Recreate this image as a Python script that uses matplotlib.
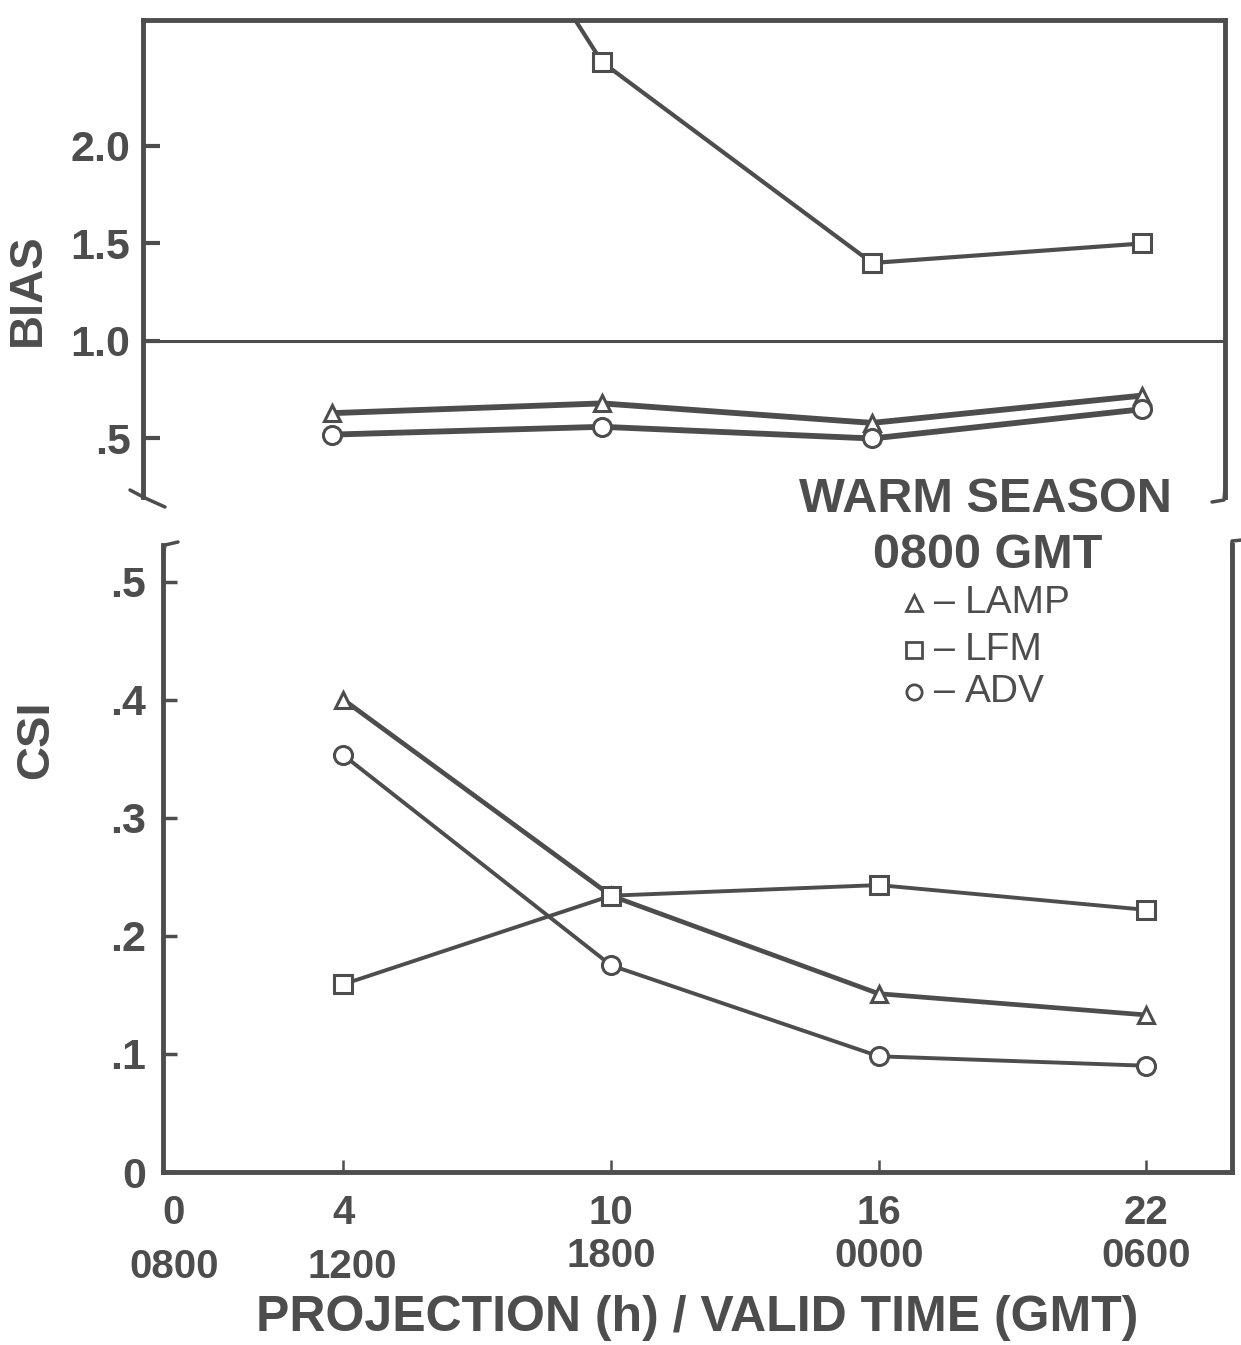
import matplotlib
matplotlib.use("Agg")
import matplotlib.pyplot as plt
from matplotlib.lines import Line2D

plt.rcParams.update({"font.family": ["Liberation Sans", "DejaVu Sans"], "font.size": 30})
INK = "#4d4d4d"
W, H = 1241, 1345

# data
proj = [4, 10, 16, 22]
proj_labels = ["0", "4", "10", "16", "22"]
proj_ticks = [0, 4, 10, 16, 22]
valid_labels = ["0800", "1200", "1800", "0000", "0600"]
bias_lamp = [0.63, 0.68, 0.58, 0.72]
bias_lfm = [4.6, 2.43, 1.40, 1.50]
bias_adv = [0.52, 0.56, 0.50, 0.65]
csi_lamp = [0.40, 0.234, 0.151, 0.133]
csi_lfm = [0.159, 0.234, 0.243, 0.222]
csi_adv = [0.353, 0.175, 0.098, 0.090]
bias_ticks = [0.5, 1.0, 1.5, 2.0]
bias_ticklabels = [".5", "1.0", "1.5", "2.0"]
csi_ticks = [0, 0.1, 0.2, 0.3, 0.4, 0.5]
csi_ticklabels = ["0", ".1", ".2", ".3", ".4", ".5"]


def fx(px):
    return px / W


def fy(py):
    return 1 - py / H


def series(ax, y, marker, ms, lw=3.2):
    ax.plot(proj, y, color=INK, lw=lw, marker=marker, ms=ms, mfc="white",
            mec=INK, mew=2.2, zorder=3)


fig = plt.figure(figsize=(W / 100, H / 100), dpi=100)

# ---------- top panel: BIAS ----------
top = fig.add_axes([fx(143), fy(497), fx(1225 - 143), (497 - 20) / H])
top.set_xlim(-0.2, 23.84)
top.set_ylim(0.2, 2.646)
series(top, bias_lfm, "s", 13, lw=3.0)
series(top, bias_lamp, "^", 12, lw=4.2)
series(top, bias_adv, "o", 13, lw=4.2)
top.axhline(1.0, color=INK, lw=2.2, zorder=2)
for s in ("top", "left", "right"):
    top.spines[s].set_linewidth(3.5)
    top.spines[s].set_color(INK)
top.spines["bottom"].set_visible(False)
top.set_xticks([])
top.set_yticks(bias_ticks, bias_ticklabels, fontweight="bold")
top.tick_params(axis="y", direction="in", length=12, width=3, color=INK,
                labelcolor=INK, pad=9, labelsize=31)
top.set_ylabel("BIAS", fontsize=34, fontweight="bold", color=INK)
top.yaxis.set_label_coords(-0.086, 0.434)

# ---------- bottom panel: CSI ----------
bot = fig.add_axes([fx(163), fy(1172), fx(1232 - 163), (1172 - 545) / H])
bot.set_xlim(-0.045, 23.92)
bot.set_ylim(0, 0.531)
series(bot, csi_lamp, "^", 12, lw=3.4)
series(bot, csi_lfm, "s", 13, lw=2.8)
series(bot, csi_adv, "o", 13, lw=2.8)
for s in ("bottom", "left", "right"):
    bot.spines[s].set_linewidth(3.5)
    bot.spines[s].set_color(INK)
bot.spines["top"].set_visible(False)
bot.set_xticks(proj, [])
bot.tick_params(axis="x", direction="in", length=9, width=1.8, color=INK)
bot.set_yticks(csi_ticks, csi_ticklabels, fontweight="bold")
bot.tick_params(axis="y", direction="in", length=10, width=2.5, color=INK,
                labelcolor=INK, pad=12, labelsize=31)
bot.set_ylabel("CSI", fontsize=34, fontweight="bold", color=INK)
bot.yaxis.set_label_coords(-0.098, 0.689)

# two-row x labels (projection / valid time), drawn per tick
trans = bot.get_xaxis_transform()
for i, (h, p, v) in enumerate(zip(proj_ticks, proj_labels, valid_labels)):
    xp = h + 0.2 if i == 0 else h
    xv = h + 0.2 if i < 2 else h
    bot.text(xp, -0.066, p, transform=trans, ha="center", va="center",
             fontsize=29, color=INK, fontweight="bold")
    yrow = -0.152 if i < 2 else -0.134
    bot.text(xv, yrow, v, transform=trans, ha="center", va="center",
             fontsize=29, color=INK, fontweight="bold")
fig.text(fx(697), fy(1318), "PROJECTION (h) / VALID TIME (GMT)", ha="center",
         va="center", fontsize=36, fontweight="bold", color=INK)

# axis break marks
brk = dict(color=INK, lw=2.5, transform=fig.transFigure, solid_capstyle="round")
fig.add_artist(Line2D([fx(130), fx(145), fx(165)], [fy(490), fy(498), fy(507)], **brk))
fig.add_artist(Line2D([fx(1225), fx(1224), fx(1212)], [fy(488), fy(500), fy(502)], **brk))
fig.add_artist(Line2D([fx(163), fx(165), fx(178)], [fy(556), fy(545), fy(542)], **brk))
fig.add_artist(Line2D([fx(1232), fx(1232), fx(1242)], [fy(556), fy(541), fy(540)], **brk))

# legend block
fig.text(fx(985), fy(500), "WARM SEASON", ha="center", va="center", fontsize=35,
         fontweight="bold", color=INK)
fig.text(fx(988), fy(555), "0800 GMT", ha="center", va="center", fontsize=35,
         fontweight="bold", color=INK)
for py, mk, name in [(603, "^", "LAMP"), (650, "s", "LFM"), (692, "o", "ADV")]:
    fig.add_artist(Line2D([fx(914)], [fy(py)], marker=mk, ms=11, mfc="white", mec=INK,
                          mew=2.0, transform=fig.transFigure))
    fig.text(fx(944), fy(py), "–", ha="center", va="center", fontsize=27, color=INK)
    fig.text(fx(965), fy(py), name, ha="left", va="center", fontsize=28, color=INK)

fig.savefig("out.png", dpi=100)
